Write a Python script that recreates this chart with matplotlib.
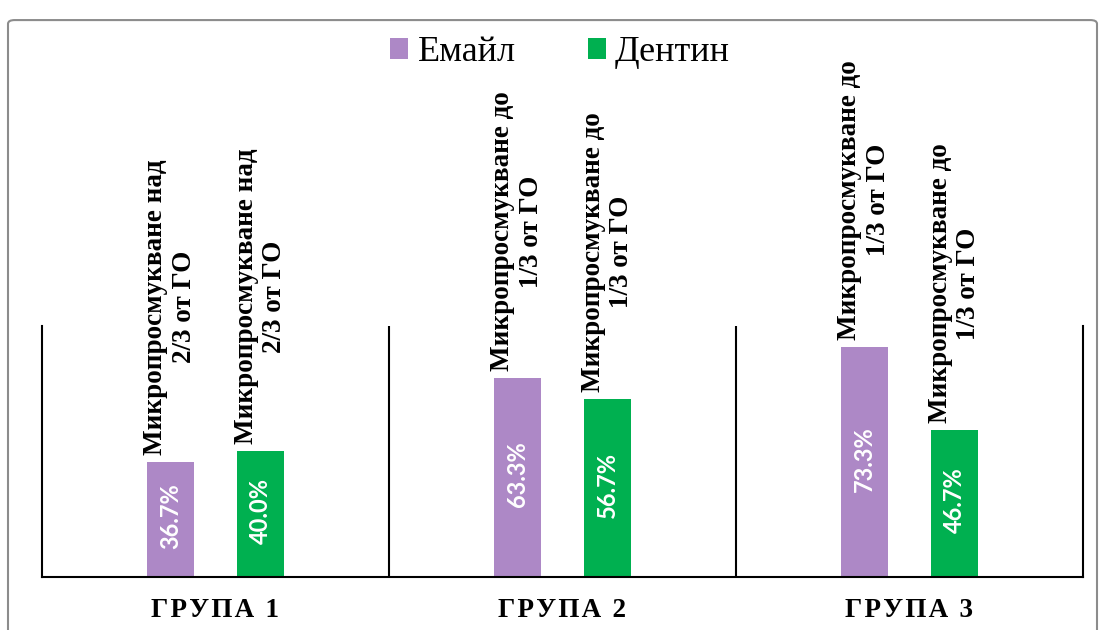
import numpy as np
import matplotlib.pyplot as plt
from matplotlib.patches import FancyBboxPatch
from matplotlib.transforms import blended_transform_factory

## Data ############################

groups = ['ГРУПА 1', 'ГРУПА 2', 'ГРУПА 3']
series = ['Емайл', 'Дентин']
enamel = [36.7, 63.3, 73.3]
dentin = [40.0, 56.7, 46.7]
enamel_notes = ['Микропросмукване над\n2/3 от ГО',
                'Микропросмукване до\n1/3 от ГО',
                'Микропросмукване до\n1/3 от ГО']
dentin_notes = ['Микропросмукване над\n2/3 от ГО',
                'Микропросмукване до\n1/3 от ГО',
                'Микропросмукване до\n1/3 от ГО']

colors = ['#AD88C6', '#00B050']
serif = 'Liberation Serif'

## Figure ############################

fig = plt.figure(figsize=(11.07, 6.3), dpi=100)
ax = fig.add_axes([0.0379, 0.0849, 0.9404, 0.3976])

# rounded frame around the whole chart
frame = FancyBboxPatch((8/1107, -0.05), 1089/1107, 0.95 + 0.05 - 10/630 + 0.034,
                       boxstyle='round,pad=0,rounding_size=0.006',
                       transform=fig.transFigure, facecolor='none',
                       edgecolor='#8c8c8c', linewidth=1.5, clip_on=False)
fig.patches.append(frame)

x = np.arange(len(groups))
off = 0.13
w = 0.137

b1 = ax.bar(x - off, enamel, w, color=colors[0], label=series[0])
b2 = ax.bar(x + off, dentin, w, color=colors[1], label=series[1])

# notes above the bars, values inside
for xs, vals, notes in [(x - off, enamel, enamel_notes), (x + off, dentin, dentin_notes)]:
    for xi, v, note in zip(xs, vals, notes):
        ax.annotate(note, (xi, v), xytext=(0, 5), textcoords='offset points',
                    rotation=90, ha='center', va='bottom', multialignment='center',
                    fontfamily=serif, fontweight='bold', fontsize=19.5,
                    annotation_clip=False)
        ax.text(xi, v / 2 + 1.0, f'{v:.1f}%', rotation=90, ha='center', va='center',
                color='white', fontfamily='Lato', fontweight='bold', fontsize=17)

ax.set_xlim(-0.5, 2.5)
ax.set_ylim(0, 80)

for s in ['top']:
    ax.spines[s].set_visible(False)
for s in ['left', 'right', 'bottom']:
    ax.spines[s].set_linewidth(1.5)
    ax.spines[s].set_color('black')
for xv in [0.5, 1.5]:
    ax.axvline(xv, color='black', linewidth=1.5)

ax.set_xticks([])
ax.set_yticks([])

# group names with slightly spread letters
trans = blended_transform_factory(ax.transData, ax.transAxes)
for xi, g in zip(x, groups):
    ax.text(xi, -0.163, '\u200a'.join(g), transform=trans, ha='center', va='baseline',
            fontfamily=serif, fontweight='bold', fontsize=19.5)

leg = fig.legend(handles=[b1, b2], labels=series, loc='center', ncol=2,
                 bbox_to_anchor=(0.506, 0.916), frameon=False,
                 prop={'family': serif, 'size': 26},
                 handlelength=0.5, handleheight=0.5, handletextpad=0.25,
                 columnspacing=2.0)

plt.savefig('out.png', dpi=100)
